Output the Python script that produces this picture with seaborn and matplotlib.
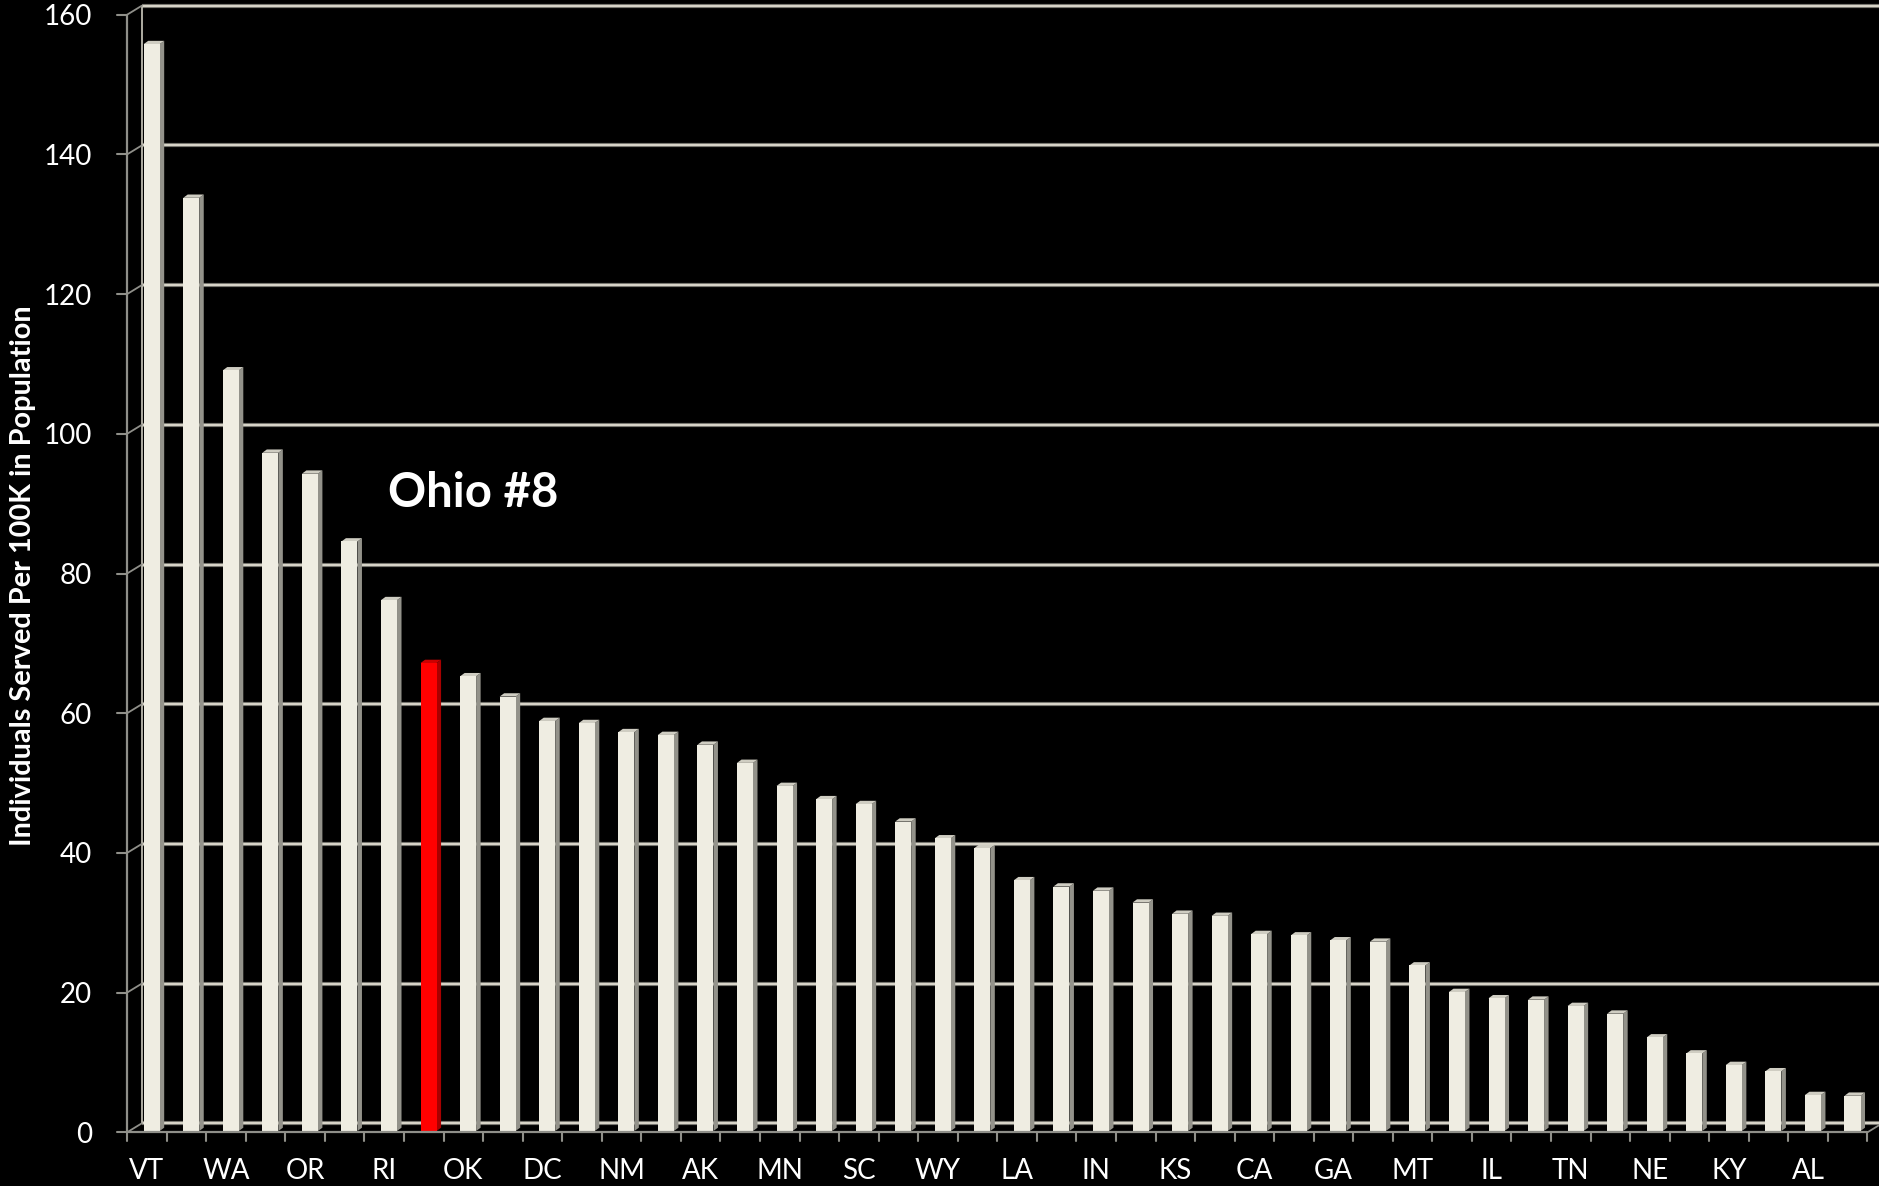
import numpy as np
import pandas as pd
import matplotlib
matplotlib.use("Agg")
import matplotlib.pyplot as plt
import matplotlib.transforms as mtransforms
import matplotlib.patheffects as pe
from matplotlib.patches import Polygon
import seaborn as sns

# ---- data -------------------------------------------------------------
ranks = list(range(1, 45))
state_labels = ["VT", "", "WA", "", "OR", "", "RI", "", "OK", "", "DC", "",
                "NM", "", "AK", "", "MN", "", "SC", "", "WY", "", "LA", "",
                "IN", "", "KS", "", "CA", "", "GA", "", "MT", "", "IL", "",
                "TN", "", "NE", "", "KY", "", "AL", ""]
served_per_100k = [155.6, 133.6, 108.9, 97.1, 94.1, 84.4, 76.0, 67.0, 65.1, 62.2,
                   58.7, 58.4, 57.1, 56.7, 55.3, 52.7, 49.4, 47.5, 46.8, 44.3,
                   41.9, 40.5, 35.9, 35.0, 34.4, 32.7, 31.1, 30.8, 28.2, 28.0,
                   27.3, 27.1, 23.7, 19.9, 19.0, 18.8, 17.9, 16.8, 13.4, 11.1,
                   9.45, 8.55, 5.15, 5.05]
highlight_rank = 8
highlight_text = "Ohio #8"
y_ticks = [0, 20, 40, 60, 80, 100, 120, 140, 160]
y_title = "Individuals Served Per 100K in Population"

# ---- style ------------------------------------------------------------
sns.set_theme(style="dark")
plt.rcParams["font.family"] = ["Lato", "DejaVu Sans"]

FRONT = "#efede2"
SIDE = "#93928a"
TOP = "#cfcdc2"
RED_FRONT = "#ff0000"
RED_SIDE = "#a80000"
RED_TOP = "#cc0000"
GRID_LIGHT = "#e2dfd2"
GRID_DARK = "#77766f"
AXIS_GRAY = "#8f8f89"

DPI = 100
fig = plt.figure(figsize=(18.79, 11.86), dpi=DPI, facecolor="black")
ax = fig.add_axes([0.0702, 0.04637, 0.9298, 0.94233])
ax.set_facecolor("black")

df = pd.DataFrame({
    "rank": ranks,
    "value": served_per_100k,
    "group": ["Ohio" if r == highlight_rank else "Other" for r in ranks],
})
sns.barplot(data=df, x="rank", y="value", hue="group",
            palette={"Other": FRONT, "Ohio": RED_FRONT},
            width=0.405, dodge=False, legend=False, saturation=1,
            linewidth=0, edgecolor="none", ax=ax, zorder=3)

ax.set_xlim(-0.5, 43.67)
ax.set_ylim(0, 160)
for s in ax.spines.values():
    s.set_visible(False)
ax.grid(False)
ax.set_xlabel("")

# depth of the pseudo-3D scene (pixels): front plane, back wall
front_shift = mtransforms.ScaledTranslation(-4.8 / DPI, -1.3 / DPI, fig.dpi_scale_trans)
back_shift = mtransforms.ScaledTranslation(9.9 / DPI, 7.7 / DPI, fig.dpi_scale_trans)
front_tr = ax.transData + front_shift
back_tr = ax.transData + back_shift

# ---- ticks and labels ------------------------------------------------
ax.set_yticks(y_ticks)
ax.set_yticklabels([str(v) for v in y_ticks])
ax.set_xticks(range(len(ranks)))
ax.set_xticklabels(state_labels)
ax.tick_params(axis="y", length=0, pad=25.3, labelsize=20, labelcolor="white")
ax.tick_params(axis="x", length=0, pad=18.5, labelsize=20, labelcolor="white")
for lab in ax.get_yticklabels() + ax.get_xticklabels():
    lab.set_transform(lab.get_transform() + front_shift)

ax.set_ylabel(y_title, fontsize=20.8, fontweight="bold", color="white")
ax.yaxis.label.set_rotation_mode("default")
ax.yaxis.label.set_verticalalignment("center")
ax.yaxis.set_label_coords(-0.0623, 0.4968)

# ---- back wall gridlines ---------------------------------------------
grid_fx = [pe.Stroke(linewidth=3.0, foreground=GRID_DARK), pe.Normal()]
x_left = -0.5
x_right = 46
for v in y_ticks:
    ax.plot([x_left, x_right], [v, v], transform=back_tr, color=GRID_LIGHT,
            lw=1.3, clip_on=False, zorder=1, path_effects=grid_fx,
            solid_capstyle="butt")
# back wall left edge
ax.plot([x_left, x_left], [0, 160], transform=back_tr, color="#bdbbb0",
        lw=1.3, clip_on=False, zorder=1)

# ---- front axis frame -------------------------------------------------
n = len(ranks)
ax.plot([x_left, x_left], [0, 160], transform=front_tr, color=AXIS_GRAY,
        lw=1.6, clip_on=False, zorder=4)
ax.plot([x_left, n - 0.5], [0, 0], transform=front_tr, color=AXIS_GRAY,
        lw=1.6, clip_on=False, zorder=4)

fig.canvas.draw()
to_px = ax.transData.transform
fdx, fdy = -4.8, -1.3
bdx, bdy = 9.9, 7.7
ident = mtransforms.IdentityTransform()

def seg(p, q, **kw):
    ax.add_line(plt.Line2D([p[0], q[0]], [p[1], q[1]], transform=ident,
                           clip_on=False, **kw))

for v in y_ticks:
    base = to_px((x_left, v))
    f = base + [fdx, fdy]
    b = base + [bdx, bdy]
    seg(f, f + [-10, 0], color=AXIS_GRAY, lw=1.5, zorder=4)   # tick mark
    seg(f, b, color=AXIS_GRAY, lw=1.3, zorder=2)              # depth connector

for k in range(n + 1):
    base = to_px((k - 0.5, 0))
    f = base + [fdx, fdy]
    seg(f, f + [0, -9], color=AXIS_GRAY, lw=1.5, zorder=4)
# right end of the floor
base = to_px((n - 0.5, 0))
seg(base + [fdx, fdy], base + [bdx, bdy], color=AXIS_GRAY, lw=1.3, zorder=2)

# ---- 3D faces on each bar --------------------------------------------
depth = np.array([4.5, 3.3])
for patch in ax.patches[:]:
    x0 = patch.get_x()
    w = patch.get_width()
    h = patch.get_height()
    if h <= 0:
        continue
    is_red = np.allclose(patch.get_facecolor()[:3], matplotlib.colors.to_rgb(RED_FRONT))
    side_c = RED_SIDE if is_red else SIDE
    top_c = RED_TOP if is_red else TOP
    bl = to_px((x0, 0))
    br = to_px((x0 + w, 0))
    tl = to_px((x0, h))
    tr = to_px((x0 + w, h))
    side = Polygon([br, tr, tr + depth, br + depth], closed=True,
                   transform=ident, facecolor=side_c, edgecolor="none",
                   zorder=2.9, clip_on=False)
    top = Polygon([tl, tr, tr + depth, tl + depth], closed=True,
                  transform=ident, facecolor=top_c, edgecolor="none",
                  zorder=2.9, clip_on=False)
    ax.add_patch(side)
    ax.add_patch(top)

# ---- callout ----------------------------------------------------------
ax.text(5.98, 89.3, highlight_text, color="white", fontsize=34,
        fontweight="bold", ha="left", va="baseline", zorder=5)

fig.savefig("out.png", dpi=DPI, facecolor="black")
